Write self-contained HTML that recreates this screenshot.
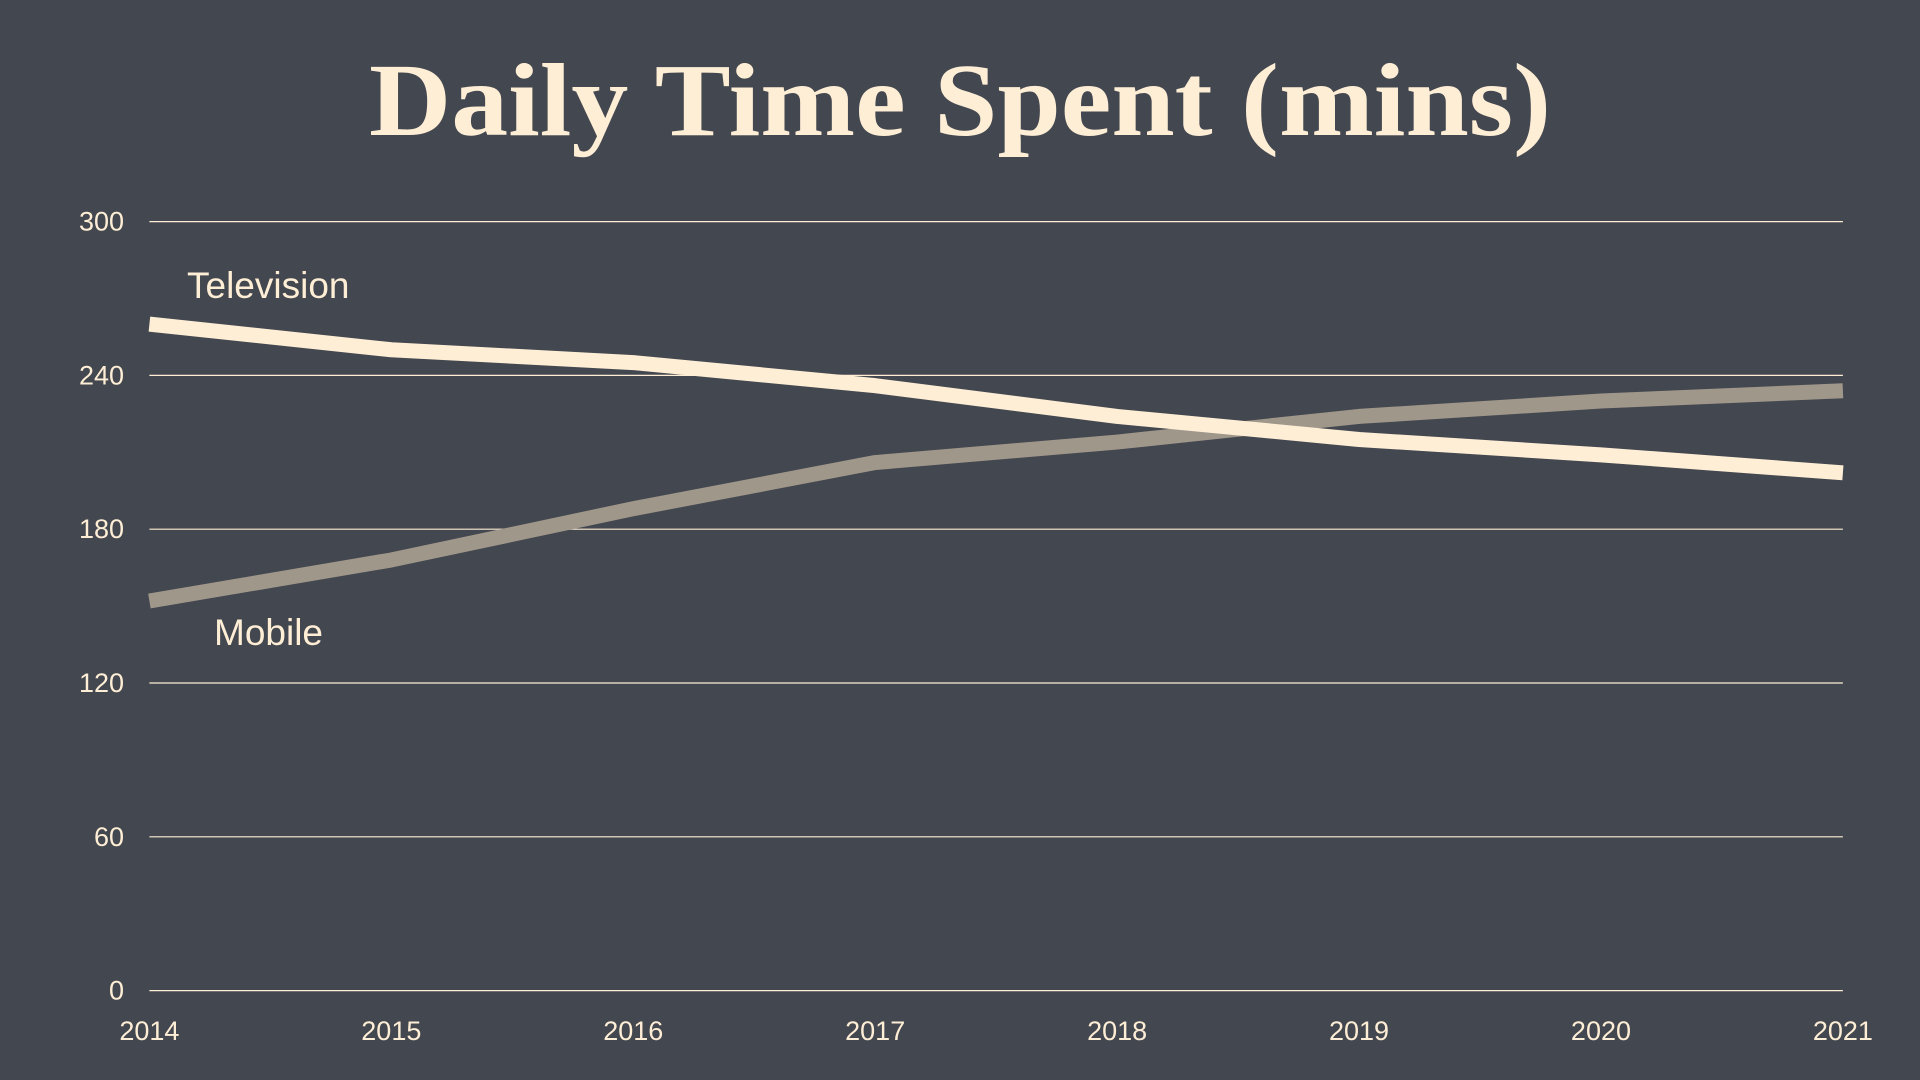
<!DOCTYPE html>
<html><head><meta charset="utf-8"><style>
html,body{margin:0;padding:0;background:#43474f;width:1920px;height:1080px;overflow:hidden}
svg text{font-family:"Liberation Sans",sans-serif}
</style></head><body>
<svg id="chart" width="1920" height="1080" viewBox="0 0 1920 1080" xmlns="http://www.w3.org/2000/svg">
<rect width="1920" height="1080" fill="#43474f"/>
<text x="960" y="135" text-anchor="middle" textLength="1182" lengthAdjust="spacingAndGlyphs" style="font-family:'Liberation Serif',serif;font-weight:bold;font-size:104px" fill="#feeed6">Daily Time Spent (mins)</text>
<g id="grid"></g><g id="series"></g><g id="labels"></g>
</svg>
<script>
const years = ["2014","2015","2016","2017","2018","2019","2020","2021"];
const television = [260,250,245,236,224,215,209,202];
const mobile = [152,168,188,206,214,224,230,234];
const yTicks = [0,60,120,180,240,300];
const NS="http://www.w3.org/2000/svg";
const x0=149.4,x1=1842.9,yBase=990.6,yTop=221.6;
function xs(i){return x0+(x1-x0)*i/(years.length-1);}
function ys(v){return yBase-(yBase-yTop)*v/300;}
function mk(tag,attrs,parent){const e=document.createElementNS(NS,tag);for(const k in attrs)e.setAttribute(k,attrs[k]);parent.appendChild(e);return e;}
const grid=document.getElementById('grid'),ser=document.getElementById('series'),lab=document.getElementById('labels');
yTicks.forEach(v=>{
  const l=mk('line',{x1:x0,x2:x1,y1:ys(v),y2:ys(v),stroke:'#feeed6','stroke-width':1.2},grid);
  
  
  const t=mk('text',{x:124,y:ys(v)+9,'text-anchor':'end','font-size':27,fill:'#feeed6'},grid);
  t.textContent=v;
  
  
});
years.forEach((y,i)=>{
  const t=mk('text',{x:xs(i),y:1040,'text-anchor':'middle','font-size':27,fill:'#feeed6'},grid);
  t.textContent=y;
  
  
});
function line(vals,color,name){
  const p=mk('polyline',{points:vals.map((v,i)=>xs(i)+','+ys(v)).join(' '),fill:'none',stroke:color,'stroke-width':15,'stroke-linejoin':'round'},ser);
  
  
}
line(mobile,'#a0978b','mobile-line');
line(television,'#feeed6','television-line');
const tl=mk('text',{x:187,y:298,'font-size':37,fill:'#feeed6'},lab);
tl.textContent='Television';


const ml=mk('text',{x:214,y:645,'font-size':37,fill:'#feeed6'},lab);
ml.textContent='Mobile';


</script>
</body></html>
